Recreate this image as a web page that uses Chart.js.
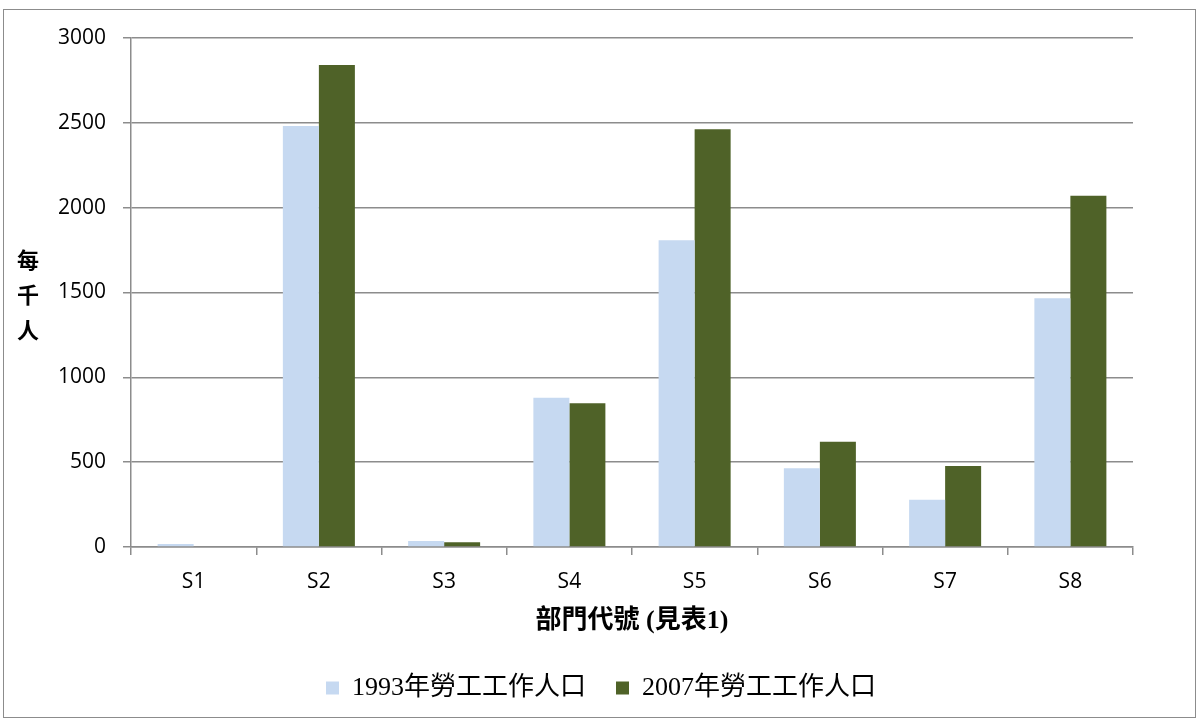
<!DOCTYPE html>
<html>
<head>
<meta charset="utf-8">
<script src="https://cdn.jsdelivr.net/npm/chart.js@4.4.0/dist/chart.umd.min.js"></script>
<style>
html,body{margin:0;padding:0;background:#fff;}
#wrap{width:1198px;height:725px;position:relative;}
</style>
</head>
<body>
<div id="wrap"><canvas id="c" width="1198" height="725"></canvas></div>
<script>
const categories = ['S1', 'S2', 'S3', 'S4', 'S5', 'S6', 'S7', 'S8'];
const series1993 = [18, 2481, 35, 880, 1808, 464, 279, 1466];
const series2007 = [0, 2841, 28, 847, 2462, 621, 478, 2070];
const seriesLabels = ['1993年勞工工作人口', '2007年勞工工作人口'];
const yTickValues = [0, 500, 1000, 1500, 2000, 2500, 3000];
const yTitleChars = ['每', '千', '人'];
const xTitle = '部門代號 (見表1)';

const colors = ['#c6d9f1', '#4f6228'];
const gridColor = '#8c8c8c';
const tickFont = { family: "'Open Sans', 'DejaVu Sans', sans-serif", size: 21 };
const cjkSerif = "'Liberation Serif', 'Noto Sans CJK TC', serif";

const PLOT_LEFT = 131, PLOT_BOTTOM = 547, PAD_LEFT = 45, PAD_BOTTOM = 14, LEGEND_SHIFT = 12;

const framePlugin = {
  id: 'frameAndYTitle',
  afterLayout(chart) {
    if (chart.legend) {
      chart.legend.left += LEGEND_SHIFT;
      chart.legend.right += LEGEND_SHIFT;
    }
  },
  afterDraw(chart) {
    const ctx = chart.ctx;
    ctx.save();
    ctx.strokeStyle = '#8c8c8c';
    ctx.lineWidth = 1;
    ctx.strokeRect(3.5, 9.5, 1192, 708);
    ctx.fillStyle = '#000';
    ctx.font = "bold 22px " + cjkSerif;
    ctx.textAlign = 'center';
    ctx.textBaseline = 'middle';
    const ys = [262, 297, 332];
    yTitleChars.forEach((ch, i) => ctx.fillText(ch, 28, ys[i]));
    ctx.restore();
  }
};

new Chart(document.getElementById('c'), {
  type: 'bar',
  data: {
    labels: categories,
    datasets: [
      { label: seriesLabels[0], data: series1993, backgroundColor: colors[0], borderWidth: 0 },
      { label: seriesLabels[1], data: series2007, backgroundColor: colors[1], borderWidth: 0 }
    ]
  },
  options: {
    responsive: false,
    animation: false,
    devicePixelRatio: 1,
    categoryPercentage: 0.575,
    barPercentage: 1,
    layout: { padding: { top: 38, right: 65, bottom: PAD_BOTTOM, left: PAD_LEFT } },
    plugins: {
      tooltip: { enabled: false },
      legend: {
        position: 'bottom',
        labels: {
          boxWidth: 13,
          boxHeight: 13,
          padding: 30,
          color: '#000',
          font: { family: cjkSerif, size: 26 }
        }
      }
    },
    scales: {
      x: {
        afterFit(scale) {
          const lh = scale.chart.legend ? scale.chart.legend.height : 66;
          scale.height = scale.chart.height - PAD_BOTTOM - lh - PLOT_BOTTOM;
        },
        grid: { offset: true, drawOnChartArea: false, drawTicks: true, tickLength: 8, color: gridColor, lineWidth: 1.5 },
        border: { display: true, color: gridColor, width: 1.5 },
        ticks: { color: '#000', font: tickFont, padding: 14 },
        title: {
          display: true,
          text: xTitle,
          color: '#000',
          font: { family: cjkSerif, size: 26, weight: 'bold' },
          padding: { top: 0, bottom: 8 }
        }
      },
      y: {
        min: 0,
        max: 3000,
        afterFit(scale) { scale.width = PLOT_LEFT - PAD_LEFT; },
        afterBuildTicks(scale) { scale.ticks = yTickValues.map(v => ({ value: v })); },
        grid: { drawTicks: true, tickLength: 8, color: gridColor, lineWidth: 1.5 },
        border: { display: true, color: gridColor, width: 1.5 },
        ticks: { color: '#000', font: tickFont, padding: 17, callback: v => String(v) }
      }
    }
  },
  plugins: [framePlugin]
});
</script>
</body>
</html>
